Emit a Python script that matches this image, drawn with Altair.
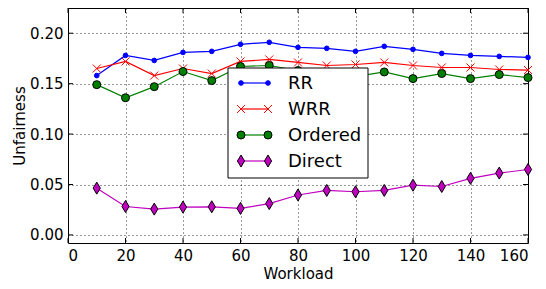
import altair as alt
import pandas as pd

series = ["RR", "WRR", "Ordered", "Direct"]
workload = [10, 20, 30, 40, 50, 60, 70, 80, 90, 100, 110, 120, 130, 140, 150, 160]
rr = [0.158, 0.178, 0.173, 0.181, 0.182, 0.189, 0.191, 0.186, 0.185, 0.182, 0.187, 0.184, 0.180, 0.178, 0.177, 0.176]
wrr = [0.165, 0.172, 0.158, 0.165, 0.160, 0.172, 0.174, 0.171, 0.168, 0.169, 0.171, 0.168, 0.166, 0.166, 0.164, 0.1635]
ordered = [0.149, 0.136, 0.147, 0.162, 0.153, 0.167, 0.168, 0.163, 0.158, 0.157, 0.1616, 0.155, 0.160, 0.155, 0.159, 0.156]
direct = [0.0464, 0.0282, 0.0256, 0.0276, 0.0279, 0.0263, 0.0311, 0.0396, 0.0441, 0.0428, 0.0441, 0.0493, 0.048, 0.0561, 0.0613, 0.0649]
values = {"RR": rr, "WRR": wrr, "Ordered": ordered, "Direct": direct}

x_ticks = [0, 20, 40, 60, 80, 100, 120, 140, 160]
y_ticks = [0.00, 0.05, 0.10, 0.15, 0.20]

FONT = "DejaVu Sans"
W, H = 460, 235
X_PATH = "M-1,-1L1,1M-1,1L1,-1"
D_PATH = "M0,-1L0.6,0L0,1L-0.6,0Z"

styles = {
    "RR": dict(color="#0000ff", shape="circle", size=22, fill="#0000ff", stroke="#0000ff"),
    "WRR": dict(color="#ff0000", shape=X_PATH, size=64, fill=None, stroke="#ff0000"),
    "Ordered": dict(color="#008000", shape="circle", size=64, fill="#008000", stroke="#000000"),
    "Direct": dict(color="#bf00bf", shape=D_PATH, size=144, fill="#bf00bf", stroke="#000000"),
}

xs = alt.Scale(domain=[0, 160], nice=False, zero=False)
ys = alt.Scale(domain=[-0.008, 0.225], nice=False, zero=False)
xax = alt.Axis(values=x_ticks, format="d", title="Workload", labelPadding=5, titlePadding=3)
yax = alt.Axis(values=y_ticks, format=".2f", title="Unfairness", labelPadding=5, titlePadding=2)


def point_mark(st):
    kw = dict(shape=st["shape"], size=st["size"], strokeWidth=1, opacity=1, stroke=st["stroke"])
    if st["fill"] is None:
        kw["filled"] = False
    else:
        kw["filled"] = True
        kw["fill"] = st["fill"]
    return kw


layers = []
for s in series:
    df = pd.DataFrame({"Workload": workload, "Unfairness": values[s]})
    st = styles[s]
    base = alt.Chart(df).encode(
        x=alt.X("Workload:Q", scale=xs, axis=xax),
        y=alt.Y("Unfairness:Q", scale=ys, axis=yax),
    )
    layers.append(base.mark_line(color=st["color"], strokeWidth=1.2))
    layers.append(base.mark_point(**point_mark(st)))

# inward tick marks on all four sides
xt = pd.DataFrame({"Workload": x_ticks})
yt = pd.DataFrame({"Unfairness": y_ticks})
TL = 5
for y0, y1 in [(H, H - TL), (0, TL)]:
    layers.append(alt.Chart(xt).mark_rule(color="black", strokeWidth=1).encode(
        x=alt.X("Workload:Q", scale=xs), y=alt.value(y0), y2=alt.value(y1)))
for x0, x1 in [(0, TL), (W, W - TL)]:
    layers.append(alt.Chart(yt).mark_rule(color="black", strokeWidth=1).encode(
        y=alt.Y("Unfairness:Q", scale=ys), x=alt.value(x0), x2=alt.value(x1)))

# legend
LX0, LX1, LY0, LY1 = 160, 300, 60, 170
one = pd.DataFrame({"k": [0]})
layers.append(alt.Chart(one).mark_rect(fill="white", stroke="black", strokeWidth=1).encode(
    x=alt.value(LX0), x2=alt.value(LX1), y=alt.value(LY0), y2=alt.value(LY1)))
for i, s in enumerate(series):
    st = styles[s]
    yy = 75 + 26 * i
    ldf = pd.DataFrame({"label": [s]})
    layers.append(alt.Chart(ldf).mark_rule(color=st["color"], strokeWidth=1.2).encode(
        x=alt.value(173), x2=alt.value(200), y=alt.value(yy)))
    for px in (173, 200):
        layers.append(alt.Chart(ldf).mark_point(**point_mark(st)).encode(x=alt.value(px), y=alt.value(yy)))
    layers.append(alt.Chart(ldf).mark_text(align="left", baseline="middle", font=FONT, fontSize=18,
                                           color="black").encode(
        x=alt.value(220), y=alt.value(yy + 1), text="label:N"))

chart = alt.layer(*layers).properties(
    width=W, height=H,
    padding={"left": 60, "top": 0, "right": 10, "bottom": 38},
    autosize=alt.AutoSizeParams(type="none"),
).configure_axis(
    labelFont=FONT, titleFont=FONT, labelFontSize=15, titleFontSize=15,
    titleFontWeight="normal", labelColor="black", titleColor="black",
    gridColor="black", gridDash=[1, 3], gridOpacity=1, gridWidth=0.8,
    domain=False, ticks=False,
).configure_view(stroke="black", strokeWidth=1)

chart.save("out.html", embed_options={"renderer": "svg", "actions": False})
